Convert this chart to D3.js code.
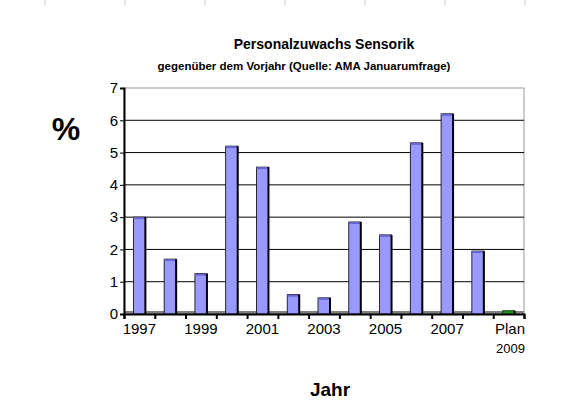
<!DOCTYPE html>
<html lang="de">
<head>
<meta charset="utf-8">
<script src="https://d3js.org/d3.v7.min.js"></script>
<style>body{margin:0;background:#fff}text{font-family:"Liberation Sans",Arial,sans-serif}</style>
</head>
<body>
<script>
const categories = ["1997","1998","1999","2000","2001","2002","2003","2004","2005","2006","2007","2008","Plan 2009"];
const values = [3.0, 1.7, 1.25, 5.2, 4.55, 0.6, 0.5, 2.85, 2.45, 5.3, 6.2, 1.95, 0.1];
const yTicks = [0,1,2,3,4,5,6,7];

const w = 587, h = 413;
const pLeft = 124, pRight = 524, pTop = 88, pBottom = 314;

const svg = d3.select("body").append("svg").attr("width", w).attr("height", h);

// faint marks along the top edge
[45,125,205,285,365,445,525].forEach(x =>
  svg.append("line").attr("x1", x).attr("x2", x).attr("y1", 0).attr("y2", 5).attr("stroke", "#ccc"));

const x = d3.scaleBand().domain(categories).range([pLeft, pRight]);
const y = d3.scaleLinear().domain([0, 7]).range([pBottom, pTop]);

svg.append("rect").attr("x", pLeft).attr("y", pTop).attr("width", pRight - pLeft).attr("height", pBottom - pTop)
  .attr("fill", "none").attr("stroke", "#999");

svg.append("g").selectAll("line").data(yTicks.slice(1, -1)).join("line")
  .attr("x1", pLeft).attr("x2", pRight).attr("y1", d => y(d)).attr("y2", d => y(d)).attr("stroke", "#000");

// floor
svg.append("rect").attr("x", pLeft).attr("y", pBottom - 3).attr("width", pRight - pLeft).attr("height", 3).attr("fill", "#808080");

const bw = 12;
const bars = svg.append("g").selectAll("g").data(values).join("g");
bars.append("rect")
  .attr("x", (d, i) => x(categories[i]) + x.bandwidth() / 2 - bw / 2)
  .attr("y", d => y(d))
  .attr("width", bw)
  .attr("height", d => pBottom - y(d))
  .attr("fill", (d, i) => i === values.length - 1 ? "#33cc33" : "#9999ff")
  .attr("stroke", "#000").attr("stroke-width", 0.8);
bars.append("rect")
  .attr("x", (d, i) => x(categories[i]) + x.bandwidth() / 2 - bw / 2)
  .attr("y", d => y(d))
  .attr("width", bw).attr("height", 2)
  .attr("fill", (d, i) => i === values.length - 1 ? "#1a801a" : "#6666cc");
bars.append("line")
  .attr("x1", (d, i) => x(categories[i]) + x.bandwidth() / 2 + bw / 2)
  .attr("x2", (d, i) => x(categories[i]) + x.bandwidth() / 2 + bw / 2)
  .attr("y1", d => y(d)).attr("y2", pBottom).attr("stroke", "#000").attr("stroke-width", 2);

// y axis
const ya = svg.append("g").attr("transform", `translate(${pLeft},0)`)
  .call(d3.axisLeft(y).tickValues(yTicks).tickSize(4).tickFormat(d3.format("d")));
ya.select(".domain").attr("stroke-width", 2);
ya.selectAll("text").attr("font-size", 15).attr("font-family", "Liberation Sans, Arial").attr("dx", 1);

// x axis
const xa = svg.append("g").attr("transform", `translate(0,${pBottom})`)
  .call(d3.axisBottom(d3.scaleLinear().domain([0, 13]).range([pLeft, pRight])).ticks(13).tickSize(5).tickFormat(""));
xa.select(".domain").attr("stroke-width", 2);
xa.selectAll("line").attr("stroke-width", 2);

svg.append("g").selectAll("text").data(categories.filter((d, i) => i % 2 === 0)).join("text")
  .attr("x", d => x(d) + x.bandwidth() / 2).attr("y", pBottom + 20)
  .attr("text-anchor", "middle").attr("font-size", 15)
  .each(function (d) {
    const parts = d.split(" ");
    const t = d3.select(this);
    if (parts.length > 1) {
      t.attr("x", null).attr("text-anchor", "end");
      const xe = pRight + 1;
      t.append("tspan").attr("x", xe).text(parts[0]);
      t.append("tspan").attr("x", xe).attr("dy", 19).attr("font-size", 13).text(parts[1]);
    } else t.text(d);
  });

svg.append("text").attr("x", 324).attr("y", 49).attr("text-anchor", "middle")
  .attr("font-size", 14).attr("font-weight", "bold").text("Personalzuwachs Sensorik");
svg.append("text").attr("x", 304).attr("y", 70).attr("text-anchor", "middle")
  .attr("font-size", 11.5).attr("font-weight", "bold").text("gegenüber dem Vorjahr (Quelle: AMA Januarumfrage)");
svg.append("text").attr("x", 66).attr("y", 140).attr("text-anchor", "middle")
  .attr("font-size", 32).attr("font-weight", "bold").text("%");
svg.append("text").attr("x", 330).attr("y", 396).attr("text-anchor", "middle")
  .attr("font-size", 19).attr("font-weight", "bold").text("Jahr");
</script>
</body>
</html>
